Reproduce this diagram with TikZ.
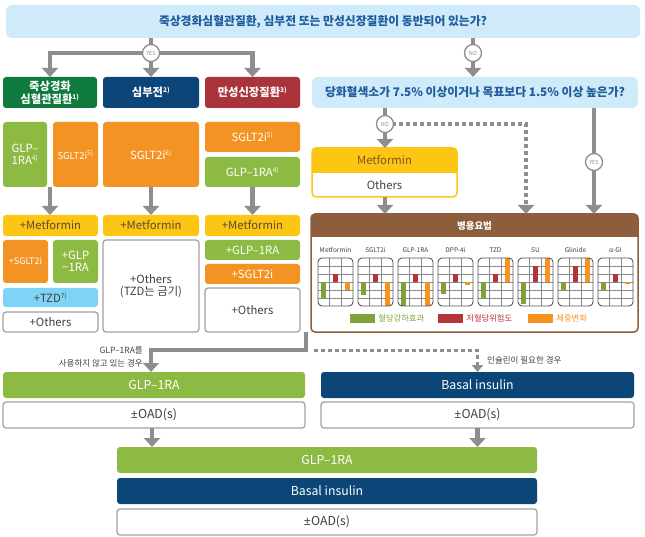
\documentclass[tikz,border=0pt]{standalone}
\usepackage{fontspec}
\setmainfont{Noto Sans CJK KR}
\newfontfamily\latfont{Noto Sans}
\usetikzlibrary{arrows.meta}
\definecolor{qblue}{HTML}{CFEAF9}
\definecolor{qtext}{HTML}{1F5C9C}
\definecolor{dgreen}{HTML}{0E7A3C}
\definecolor{navy}{HTML}{0C4577}
\definecolor{dred}{HTML}{A9343A}
\definecolor{lgreen}{HTML}{8DBA43}
\definecolor{orng}{HTML}{F39323}
\definecolor{yel}{HTML}{FDC614}
\definecolor{ltblue}{HTML}{7FD3F6}
\definecolor{gbord}{HTML}{A0A0A0}
\definecolor{brn}{HTML}{8C5E3C}
\definecolor{conngray}{HTML}{8E8E8E}
\definecolor{txtd}{HTML}{404040}
\definecolor{ytxt}{HTML}{5B4A2E}
\definecolor{mtxt}{HTML}{7A5520}
\definecolor{bgreen}{HTML}{7FA23A}
\definecolor{bred}{HTML}{B5343B}
\definecolor{borng}{HTML}{F6931F}
\definecolor{gridc}{HTML}{8A8A8A}
\definecolor{chartb}{HTML}{555555}
\newcommand{\bx}[7]{%
  \pgfmathsetmacro{\mybw}{#4-#2}\pgfmathsetmacro{\mybh}{#5-#3}%
  \node[#6, minimum width=\mybw pt, minimum height=\mybh pt] (#1) at ({(#2+#4)/2},{(#3+#5)/2}) {#7};}
\newcommand{\sps}[1]{\textsuperscript{\fontsize{6.5}{7}\selectfont #1}}
\newcommand{\pmoad}{{\latfont ±}OAD(s)}
\begin{document}
\begin{tikzpicture}[x=1pt,y=-1pt,
  font=\fontsize{11.3}{12.5}\selectfont,
  box/.style={rounded corners=3pt, inner sep=1pt, outer sep=0pt, align=center},
  qbox/.style={box, rounded corners=6pt, fill=qblue, text=qtext, font=\fontsize{11.8}{13}\selectfont\bfseries},
  hbox/.style={box, fill=#1, text=white, font=\fontsize{11.3}{12.5}\selectfont\bfseries},
  cbox/.style={box, fill=#1, text=white},
  ybox/.style={box, fill=yel, text=ytxt},
  wbox/.style={box, fill=white, draw=gbord, line width=1.2pt, text=txtd},
  big/.style={font=\fontsize{12.3}{13}\selectfont},
  conn/.style={draw=conngray, line width=4.5pt},
  dconn/.style={draw=conngray, line width=4pt, dash pattern=on 4pt off 3pt},
  tip/.tip={Triangle[width=16pt,length=9pt]},
  circ/.style={circle, draw=conngray, line width=1.3pt, fill=white, minimum size=17pt, inner sep=0pt, text=conngray, font=\fontsize{5.5}{6}\selectfont},
  chartlab/.style={font=\fontsize{6.5}{7}\selectfont, text=txtd},
  lgtxt/.style={anchor=west, font=\fontsize{8.3}{9}\selectfont, inner sep=1pt}
]
\useasboundingbox (0,0) rectangle (645,537);

% ---- questions and headers
\bx{q1}{6}{5}{640}{38}{qbox}{죽상경화심혈관질환, 심부전 또는 만성신장질환이 동반되어 있는가?}
\bx{h1}{3}{77}{97}{108}{hbox=dgreen}{죽상경화\\심혈관질환\sps{1)}}
\bx{h2}{103}{77}{199}{108}{hbox=navy}{심부전\sps{2)}}
\bx{h3}{205}{77}{300}{108}{hbox=dred}{만성신장질환\sps{3)}}
\bx{q2}{312}{77}{638}{108}{qbox}{당화혈색소가 7.5\% 이상이거나 목표보다 1.5\% 이상 높은가?}

% ---- first line drugs
\bx{g1}{3}{122}{47}{187}{cbox=lgreen}{GLP–\\1RA\sps{4)}}
\bx{s1}{53}{122}{98}{187}{cbox=orng, font=\fontsize{9.5}{11}\selectfont}{SGLT2i\sps{5)}}
\bx{s2}{103}{122}{199}{187}{cbox=orng}{SGLT2i\sps{6)}}
\bx{s3}{205}{122}{300}{152}{cbox=orng}{SGLT2i\sps{5)}}
\bx{g3}{205}{157}{300}{187}{cbox=lgreen}{GLP–1RA\sps{4)}}

% ---- add-ons
\bx{m1}{3}{215}{98}{236}{ybox}{+Metformin}
\bx{m2}{103}{215}{199}{236}{ybox}{+Metformin}
\bx{m3}{205}{215}{300}{236}{ybox}{+Metformin}
\bx{s1b}{3}{240}{48}{283}{cbox=orng, font=\fontsize{9}{10}\selectfont}{+SGLT2i}
\bx{g1b}{53}{240}{98}{283}{cbox=lgreen}{+GLP\\−1RA}
\bx{t1}{3}{288}{98}{307}{box, fill=ltblue, text=txtd}{+TZD\sps{7)}}
\bx{o1}{3}{312}{98}{332}{wbox}{+Others}
\bx{o2}{103}{240}{199}{332}{wbox}{+Others\\(TZD는 금기)}
\bx{g3b}{205}{240}{300}{260}{cbox=lgreen}{+GLP–1RA}
\bx{s3b}{205}{264}{300}{284}{cbox=orng}{+SGLT2i}
\bx{o3}{205}{288}{300}{332}{wbox}{+Others}

% ---- metformin / others box
\begin{scope}
  \clip (312,148) rectangle (457,173);
  \fill[yel, rounded corners=4pt] (312,148) rectangle (457,197);
\end{scope}
\bx{mbox}{312}{148}{457}{197}{box, draw=yel, line width=1.5pt, rounded corners=4pt}{}
\node[text=mtxt] (met) at (384.5,160.5) {Metformin};
\node[text=txtd] (oth) at (384.5,185) {Others};

% ---- combination therapy box
\begin{scope}
  \clip (311,214) rectangle (638,237);
  \fill[brn, rounded corners=4pt] (311,214) rectangle (638,260);
\end{scope}
\bx{combo}{311}{214}{638}{332}{box, draw=brn, line width=1.5pt, rounded corners=4pt}{}
\node[text=white, font=\fontsize{9.5}{10}\selectfont\bfseries] (ctitle) at (474.5,225.5) {병용요법};

\foreach \k/\lab/\g/\r/\o in {0/Metformin/2/1/-1, 1/SGLT2i/1.6/1/-3, 2/GLP-1RA/3/1/-3, 3/DPP-4i/1.5/1/-0.4, 4/TZD/2/1/3, 5/SU/2.7/2/3, 6/Glinide/1/2/3, 7/α-GI/1/1/-0.3}{
  \pgfmathsetmacro{\xa}{318+40*\k}
  \node[chartlab] (cl\k) at (\xa+17.5,250) {\lab};
  \foreach \yy in {266,274,282,290,298}{
    \draw[gridc, line width=0.7pt] (\xa,\yy) -- (\xa+35,\yy);
  }
  \draw[gridc, line width=0.7pt] (\xa+11.67,258) -- (\xa+11.67,306);
  \draw[gridc, line width=0.7pt] (\xa+23.33,258) -- (\xa+23.33,306);
  \fill[bgreen] (\xa+3.3,282) rectangle +(5,8*\g);
  \fill[bred] (\xa+15,282) rectangle +(5,-8*\r);
  \fill[borng] (\xa+26.7,282) rectangle +(5,-8*\o);
  \draw[chartb, line width=0.9pt, rounded corners=4pt] (\xa,258) rectangle (\xa+35,306);
}
\node[fill=bgreen, minimum width=25pt, minimum height=9pt, inner sep=0pt] (lg1) at (362.5,318) {};
\node[lgtxt, text=bgreen] (lg1t) at ([xshift=2pt]lg1.east) {혈당강하효과};
\node[fill=bred, minimum width=25pt, minimum height=9pt, inner sep=0pt] (lg2) at (450.5,318) {};
\node[lgtxt, text=bred] (lg2t) at ([xshift=2pt]lg2.east) {저혈당위험도};
\node[fill=borng, minimum width=25pt, minimum height=9pt, inner sep=0pt] (lg3) at (540.5,318) {};
\node[lgtxt, text=borng] (lg3t) at ([xshift=2pt]lg3.east) {체중변화};

% ---- lower boxes
\bx{g4}{3}{372}{305}{398}{cbox=lgreen, big}{GLP–1RA}
\bx{o4}{3}{402}{305}{428}{wbox, big}{\pmoad}
\bx{b4}{321}{372}{634}{398}{cbox=navy, big}{Basal insulin}
\bx{o5}{321}{402}{634}{428}{wbox, big}{\pmoad}
\bx{g5}{117}{447}{537}{473}{cbox=lgreen, big}{GLP–1RA}
\bx{b5}{117}{478}{537}{504}{cbox=navy, big}{Basal insulin}
\bx{o6}{117}{509}{537}{535}{wbox, big}{\pmoad}

% ---- connectors
\coordinate (yes1c) at (151,53);
\coordinate (no1c) at (473,53);
\coordinate (no2c) at (385,124);
\coordinate (yes2c) at (594,162);
\coordinate (dcorner) at (526,124);
\coordinate (jn) at (306,332);
\coordinate (bend) at (306,350);
\coordinate (dstart) at (314,350);

\draw[conn] (q1.south -| yes1c) -- (yes1c);
\draw[conn,-tip] (yes1c) -| (h1.north);
\draw[conn,-tip] (yes1c) -| (h3.north);
\draw[conn,-tip] (yes1c) -- (h2.north);
\draw[conn,-tip] (q1.south -| no1c) -- (q2.north -| no1c);
\draw[conn,-tip] (q2.south -| no2c) -- (mbox.north -| no2c);
\draw[dconn,-tip] (no2c) -- (dcorner) -- (dcorner |- combo.north);
\draw[conn,-tip] (q2.south -| yes2c) -- (combo.north -| yes2c);
\draw[conn,-tip] (mbox.south -| no2c) -- (combo.north -| no2c);

\draw[conn,-tip] (h1.south |- g1.south) -- (h1.south |- m1.north);
\draw[conn,-tip] (s2.south) -- (m2.north);
\draw[conn,-tip] (g3.south) -- (m3.north);

\draw[conn,-tip] (jn) -- (bend) -| ([xshift=-3pt]g4.north);
\draw[dconn,line width=3pt,-{Triangle[width=11pt,length=7pt]}] (dstart) -| (b4.north);
\node[anchor=east, align=right, font=\fontsize{8.5}{13}\selectfont, text=txtd, inner sep=0pt] (lbl1) at (143,357) {GLP–1RA를\\사용하지 않고 있는 경우};
\node[anchor=west, font=\fontsize{8.5}{10}\selectfont, text=txtd, inner sep=0pt] (lbl2) at (487,360) {인슐린이 필요한 경우};

\draw[conn,-tip] ([xshift=-2pt]o4.south) -- ([xshift=-2pt]o4.south |- g5.north);
\draw[conn,-tip] (o5.south) -- (o5.south |- g5.north);

\node[circ] (yes1) at (yes1c) {YES};
\node[circ] (no1) at (no1c) {NO};
\node[circ] (no2) at (no2c) {NO};
\node[circ] (yes2) at (yes2c) {YES};
\end{tikzpicture}
\end{document}
